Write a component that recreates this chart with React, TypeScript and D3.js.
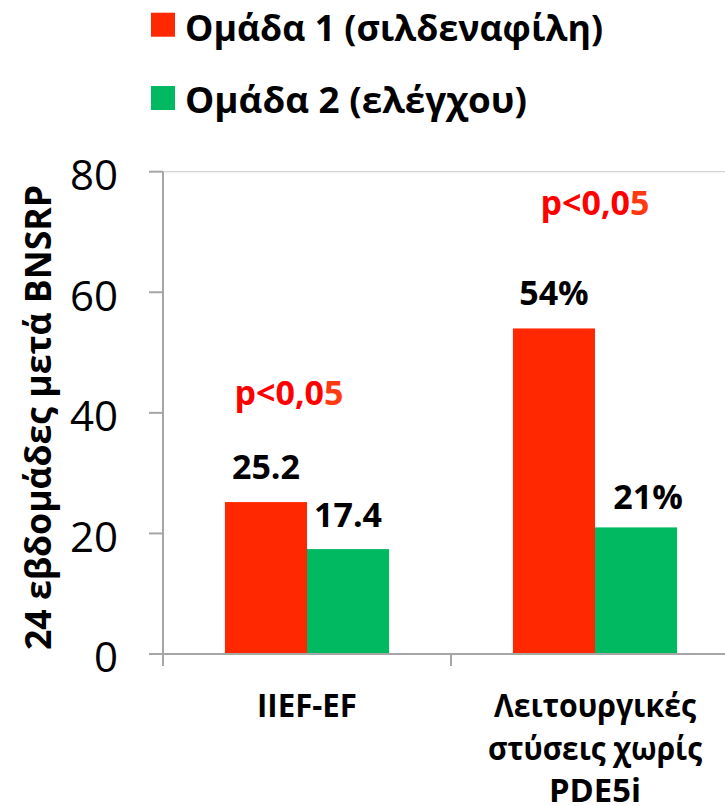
import React from "react";
import * as d3 from "d3";

const categories = ["IIEF-EF", "Λειτουργικές στύσεις χωρίς PDE5i"];
const categoryLines = [["IIEF-EF"], ["Λειτουργικές", "στύσεις χωρίς", "PDE5i"]];
const seriesNames = ["Ομάδα 1 (σιλδεναφίλη)", "Ομάδα 2 (ελέγχου)"];
const group1Values = [25.2, 54];
const group2Values = [17.4, 21];
const group1Labels = ["25.2", "54%"];
const group2Labels = ["17.4", "21%"];
const pLabels = ["p<0,05", "p<0,05"];
const yTicks = [0, 20, 40, 60, 80];
const yTitle = "24 εβδομάδες μετά BNSRP";

const W = 725;
const H = 806;
const FONT = "'Open Sans', 'DejaVu Sans', sans-serif";
const RED = "#ff2800";
const GREEN = "#00b960";
const AXIS = "#a6a6a6";

export default function App() {
  const y = d3.scaleLinear().domain([0, 80]).range([654, 171.7]);
  const x0 = d3
    .scaleBand<string>()
    .domain([...categories, "_"])
    .range([163, 163 + 288 * 3])
    .paddingInner(0.43)
    .paddingOuter(0.215);
  const x1 = d3.scaleBand<number>().domain([0, 1]).range([0, x0.bandwidth()]);
  const step = x0.step();
  const colors = [RED, GREEN];
  const values = [group1Values, group2Values];
  const labels = [group1Labels, group2Labels];
  // small annotation offsets (px) for value labels
  const labelAdj = [
    [
      [0, -23],
      [0, -23],
    ],
    [
      [0, -22],
      [12, -18],
    ],
  ];
  // p-value annotation anchors in data units / band offset
  const pAnchor = [
    { dx: -18, v: 41.3 },
    { dx: 0, v: 72.8 },
  ];
  // fitted widths for the category label lines (Calibri-like narrowness)
  const lineWidths: Record<string, number> = {
    "IIEF-EF": 100,
    "Λειτουργικές": 202,
    "στύσεις χωρίς": 214,
    PDE5i: 92,
  };
  const axisStart = 163;
  const boundaries = [0, 1, 2].map((i) => axisStart + i * step);

  return (
    <svg
      width={W}
      height={H}
      style={{ position: "absolute", left: 0, top: 0, display: "block", background: "#fff" }}
      fontFamily={FONT}
    >
      {/* legend */}
      {seriesNames.map((s, i) => (
        <g key={s}>
          <rect x={151} y={12.7 + i * 73.3} width={24} height={24} fill={colors[i]} />
          <text
            x={185}
            y={41 + i * 72.3}
            fontSize={35}
            fontWeight="bold"
            fill="#000"
            textLength={i === 0 ? 418 : 342}
            lengthAdjust="spacingAndGlyphs"
          >
            {s}
          </text>
        </g>
      ))}

      {/* top border */}
      <line x1={163} x2={W} y1={y(80)} y2={y(80)} stroke="#d4d4d4" strokeWidth={1.3} />

      {/* bars */}
      {categories.map((c, ci) => (
        <g key={c}>
          {values.map((vals, si) => (
            <rect
              key={si}
              x={(x0(c) as number) + (x1(si) as number)}
              y={y(vals[ci])}
              width={x1.bandwidth()}
              height={y(0) - y(vals[ci])}
              fill={colors[si]}
            />
          ))}
        </g>
      ))}

      {/* y axis */}
      <line x1={163} x2={163} y1={y(80)} y2={y(0) + 12} stroke={AXIS} strokeWidth={2} />
      {yTicks.map((t) => (
        <g key={t}>
          <line x1={149} x2={163} y1={y(t)} y2={y(t)} stroke={AXIS} strokeWidth={2} />
          <text x={118} y={y(t) + 18.3} textAnchor="end" fontSize={42} fill="#000">
            {t}
          </text>
        </g>
      ))}
      {/* x axis */}
      <line x1={149} x2={W} y1={y(0)} y2={y(0)} stroke={AXIS} strokeWidth={2} />
      {boundaries.map((b, i) => (
        <line key={i} x1={b} x2={b} y1={y(0)} y2={y(0) + 12} stroke={AXIS} strokeWidth={2} />
      ))}

      {/* value labels */}
      {categories.map((c, ci) =>
        values.map((vals, si) => {
          const cx = (x0(c) as number) + (x1(si) as number) + x1.bandwidth() / 2;
          const [dx, dy] = labelAdj[si][ci];
          return (
            <text
              key={`${ci}-${si}`}
              x={cx + dx}
              y={y(vals[ci]) + dy}
              textAnchor="middle"
              fontSize={34}
              fontWeight="bold"
              fill="#000"
            >
              {labels[si][ci]}
            </text>
          );
        })
      )}

      {/* p-values */}
      {categories.map((c, ci) => {
        const cx = (x0(c) as number) + x0.bandwidth() / 2 + pAnchor[ci].dx;
        const txt = pLabels[ci];
        return (
          <text
            key={`p${ci}`}
            x={cx}
            y={y(pAnchor[ci].v)}
            textAnchor="middle"
            fontSize={34}
            fontWeight="bold"
            fill="#ff0000"
          >
            {txt.slice(0, -1)}
            <tspan fill="#ff3a12">{txt.slice(-1)}</tspan>
          </text>
        );
      })}

      {/* category labels */}
      {categories.map((c, ci) => {
        const cx = (x0(c) as number) + x0.bandwidth() / 2;
        return (
          <g key={`cl${ci}`}>
            {categoryLines[ci].map((ln, li) => (
              <text
                key={li}
                x={cx}
                y={717 + li * 42.5}
                textAnchor="middle"
                fontSize={32}
                fontWeight="bold"
                fill="#000"
                textLength={lineWidths[ln]}
                lengthAdjust="spacingAndGlyphs"
              >
                {ln}
              </text>
            ))}
          </g>
        );
      })}

      {/* y title */}
      <text
        transform={`translate(51,417.5) rotate(-90)`}
        textAnchor="middle"
        fontSize={35}
        fontWeight="bold"
        fill="#000"
        textLength={465}
        lengthAdjust="spacingAndGlyphs"
      >
        {yTitle}
      </text>
    </svg>
  );
}
